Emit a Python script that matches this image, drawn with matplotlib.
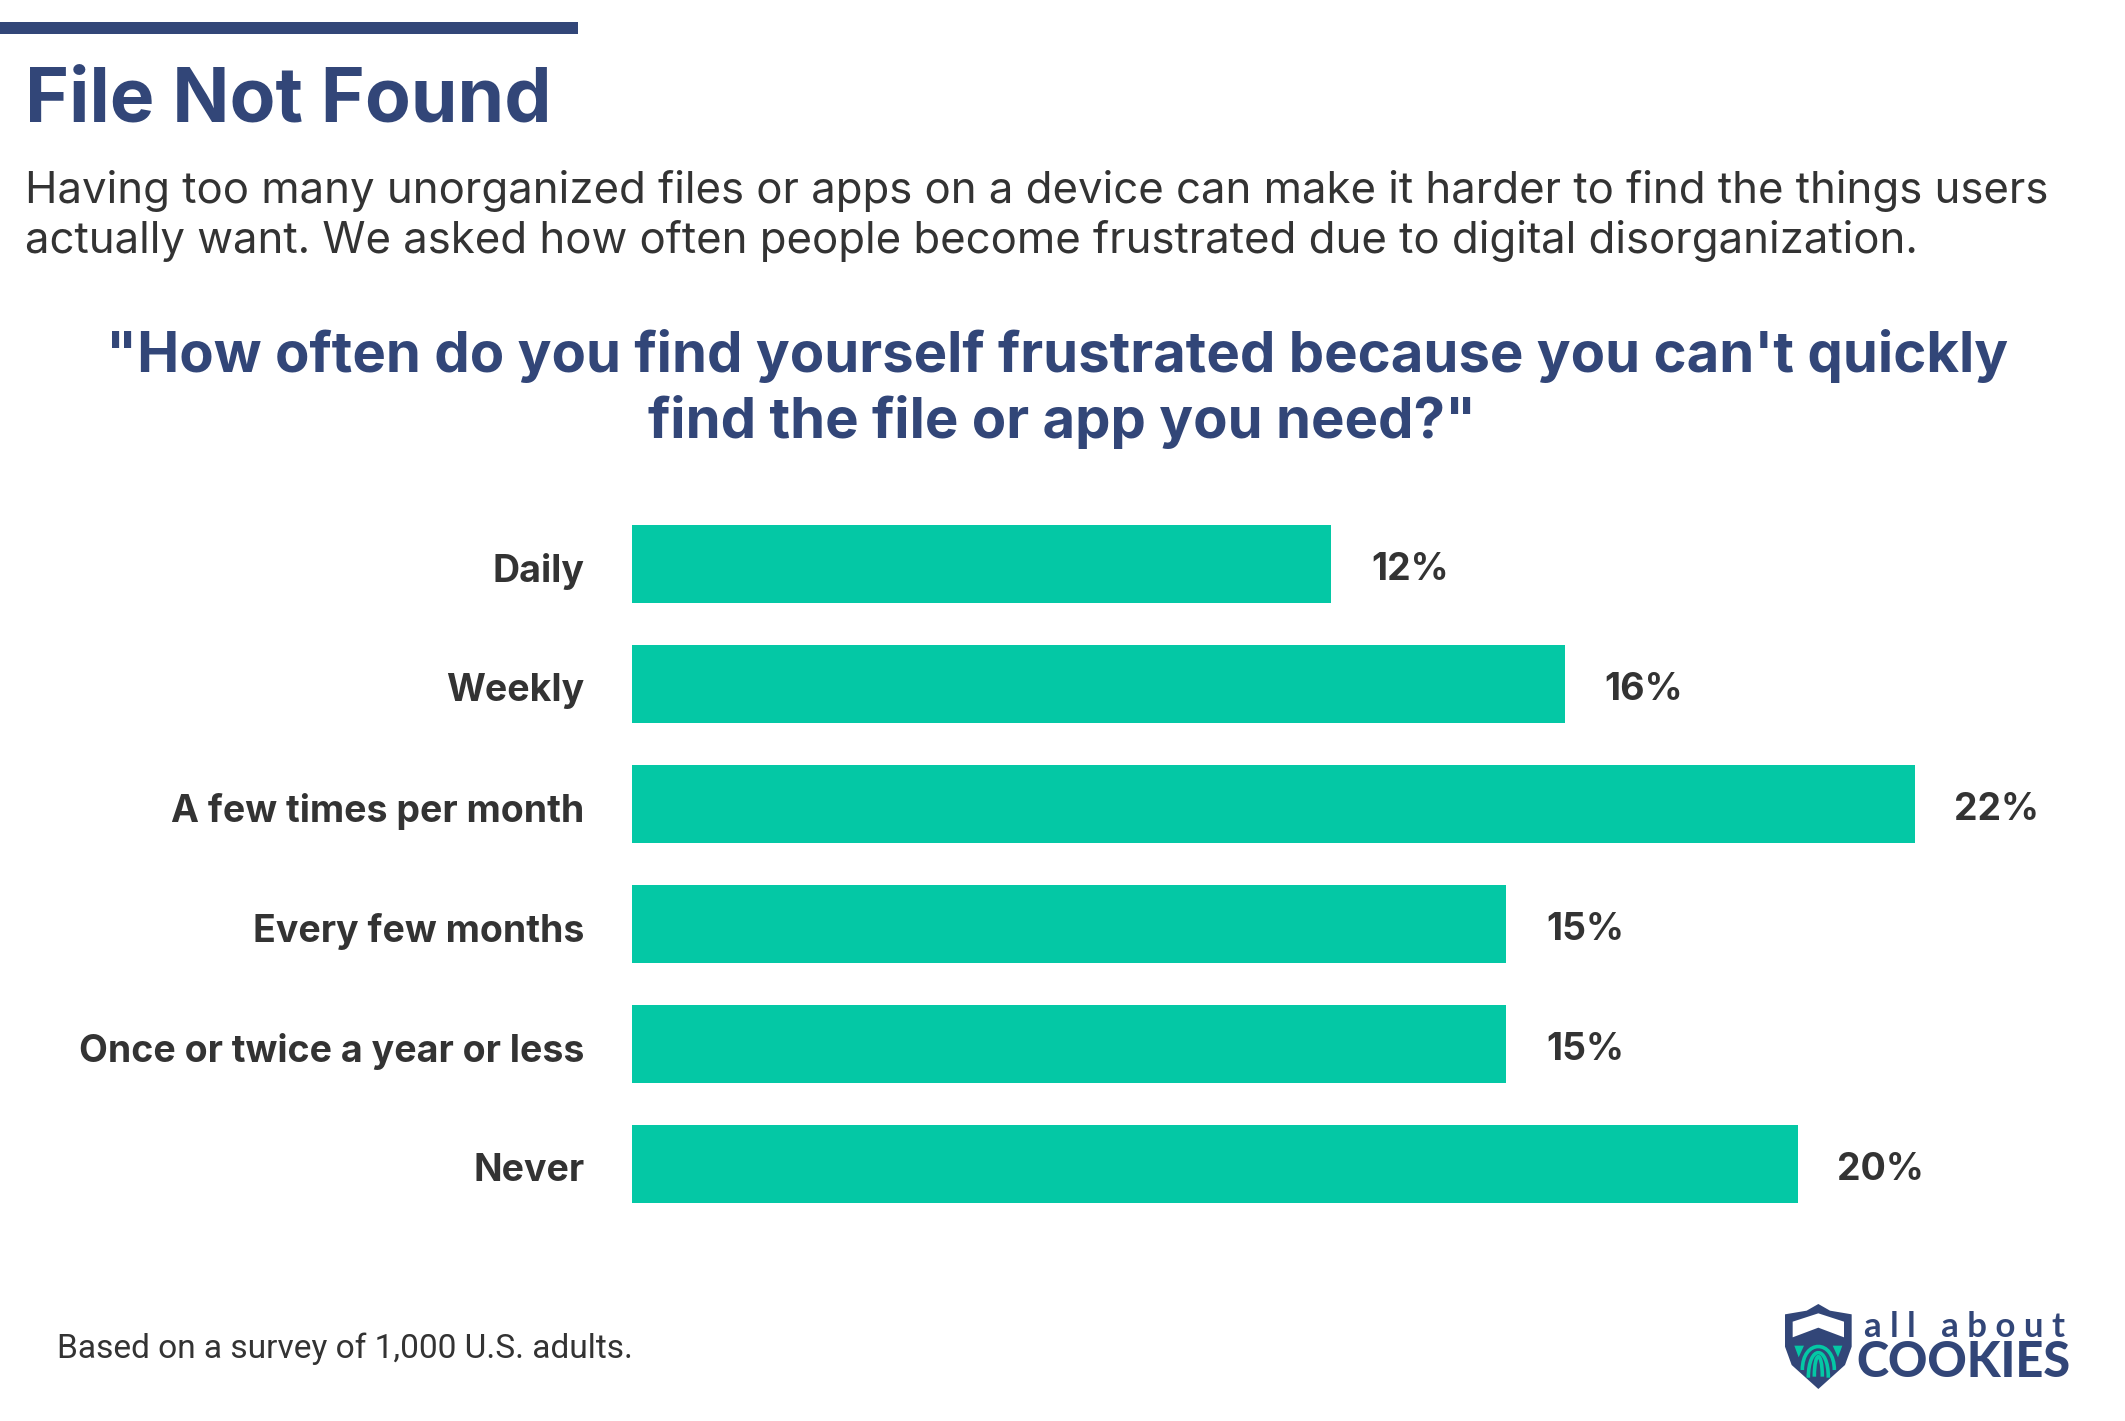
import numpy as np
import matplotlib
matplotlib.use('Agg')
import matplotlib.pyplot as plt
from matplotlib.patches import Polygon, Rectangle, PathPatch
from matplotlib.path import Path
from matplotlib.transforms import ScaledTranslation

categories = ['Daily', 'Weekly', 'A few times per month', 'Every few months',
              'Once or twice a year or less', 'Never']
values = [12, 16, 22, 15, 15, 20]
title = 'File Not Found'
subtitle = ['Having too many unorganized files or apps on a device can make it harder to find the things users',
            'actually want. We asked how often people become frustrated due to digital disorganization.']
question = ['"How often do you find yourself frustrated because you can\'t quickly',
            'find the file or app you need?"']
footnote = 'Based on a survey of 1,000 U.S. adults.'

NAVY = '#324678'
TEAL = '#04C8A5'
DARK = '#333333'
W, H = 2125, 1421

plt.rcParams['font.family'] = ['Inter', 'DejaVu Sans']
fig = plt.figure(figsize=(W / 100, H / 100), dpi=100, facecolor='white')

# overlay in pixel coords for the text and the logo
bg = fig.add_axes([0, 0, 1, 1])
bg.set_xlim(0, W)
bg.set_ylim(H, 0)
bg.axis('off')

bg.add_patch(Rectangle((0, 22), 578, 12, color=NAVY, lw=0))
bg.text(25, 122, title, fontsize=54, fontweight='bold', color=NAVY, va='baseline')
bg.text(25, 203, subtitle[0], fontsize=31.5, color=DARK, va='baseline')
bg.text(25, 253, subtitle[1], fontsize=31.5, color=DARK, va='baseline')
bg.text(1057, 372, question[0], fontsize=40.5, fontweight='bold', color=NAVY, ha='center', va='baseline')
bg.text(1062, 438, question[1], fontsize=40.5, fontweight='bold', color=NAVY, ha='center', va='baseline')
bg.text(57, 1358, footnote, fontsize=24.1, color=DARK, va='baseline',
        family=['Roboto', 'DejaVu Sans'])

# bars
ax = fig.add_axes([631.5 / W, 1 - 1224 / H, 1283 / W, 720 / H])
ypos = np.arange(len(categories))
ax.barh(ypos, values, height=78 / 120, color=TEAL)
ax.set_xlim(0, 22)
ax.set_ylim(5.5, -0.5)
ax.set_yticks(ypos, categories, fontsize=27, fontweight='bold', color=DARK)
ax.set_xticks([])
ax.tick_params(axis='y', length=0, pad=34)
for lab in ax.get_yticklabels():
    lab.set_transform(lab.get_transform() + ScaledTranslation(0, -3 / 100, fig.dpi_scale_trans))
for s in ax.spines.values():
    s.set_visible(False)
ax.patch.set_alpha(0)
for y, v in zip(ypos, values):
    ax.annotate(f'{v}%', (v, y), xytext=(28.5, -4.5), textcoords='offset points',
                va='center', fontsize=27, fontweight='bold', color=DARK,
                annotation_clip=False)

# logo
def lx(x):
    return 1750 + x / 3

def ly(y):
    return 1280 + y / 3

shield = [(205, 72), (240, 92), (305, 103), (305, 200), (285, 255), (205, 327),
          (125, 255), (105, 200), (105, 103), (170, 92)]
bg.add_patch(Polygon([(lx(x), ly(y)) for x, y in shield], closed=True, color=NAVY, lw=0))
chevron = [(128, 125), (205, 100), (282, 125), (282, 172), (205, 143), (128, 172)]
bg.add_patch(Polygon([(lx(x), ly(y)) for x, y in chevron], closed=True, color='white', lw=0))
for wedge in ([(133, 197), (162, 197), (146, 232)], [(277, 197), (248, 197), (264, 232)]):
    bg.add_patch(Polygon([(lx(x), ly(y)) for x, y in wedge], closed=True, color=TEAL, lw=0))
# fingerprint loops
for r, top, bottom in zip([48, 30, 12], [188, 205, 222], [270, 293, 290]):
    verts = [(205 - r, bottom), (205 - r, top - 12), (205 + r, top - 12), (205 + r, bottom)]
    p = Path([(lx(x), ly(y)) for x, y in verts], [Path.MOVETO, Path.CURVE4, Path.CURVE4, Path.CURVE4])
    bg.add_patch(PathPatch(p, fc='none', ec=TEAL, lw=2.6))

bg.text(1864, 1337, 'a l l   a b o u t', fontsize=25, color=NAVY, va='baseline', fontweight='bold',
        family=['Lato', 'DejaVu Sans'])
bg.text(1856, 1377, 'COOKIES', fontsize=35, color=NAVY, va='baseline', fontweight='black',
        family=['Lato', 'DejaVu Sans'])

fig.savefig('out.png', dpi=100)
